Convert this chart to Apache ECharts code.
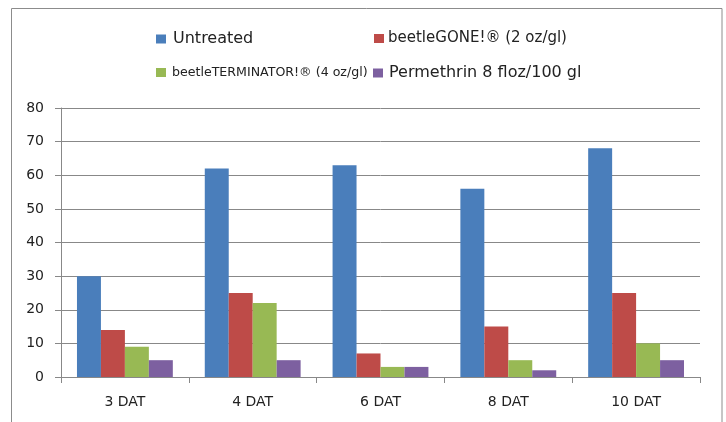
<!DOCTYPE html>
<html>
<head>
<meta charset="utf-8">
<script src="https://cdn.jsdelivr.net/npm/echarts@6/dist/echarts.min.js"></script>
<style>
  html, body { margin: 0; padding: 0; background: #fff; }
  #chart { width: 726px; height: 422px; }
</style>
</head>
<body>
<div id="chart"></div>
<script>
// categories (days after treatment)
const categories = ['3 DAT', '4 DAT', '6 DAT', '8 DAT', '10 DAT'];

// series values
const untreated = [30, 62, 63, 56, 68];
const beetleGone = [14, 25, 7, 15, 25];
const beetleTerminator = [9, 22, 3, 5, 10];
const permethrin = [5, 5, 3, 2, 5];

const names = [
  'Untreated',
  'beetleGONE!\u00ae (2 oz/gl)',
  'beetleTERMINATOR!\u00ae (4 oz/gl)',
  'Permethrin 8 floz/100 gl'
];
const colors = ['#4a7ebb', '#be4b48', '#98b954', '#7d60a0'];

const chart = echarts.init(document.getElementById('chart'));

// one legend per entry, the original lays them out in two rows
const mkLegend = (name, left, top, fontSize, gap) => ({
  data: [name],
  left: left,
  top: top,
  icon: 'rect',
  itemWidth: 10,
  itemHeight: 9,
  itemGap: gap,
  textStyle: { color: '#222', fontSize: fontSize, fontFamily: 'DejaVu Sans', padding: [0, 0, 0, gap - 5] },
  selectedMode: false
});

const option = {
  animation: false,
  color: colors,
  graphic: [{
    type: 'rect',
    shape: { x: 11.5, y: 8.5, width: 710.5, height: 430 },
    style: { fill: 'none', stroke: '#8c8c8c', lineWidth: 1 },
    silent: true
  }],
  legend: [
    mkLegend(names[0], 151, 26, 16, 7),
    mkLegend(names[1], 369, 26, 15, 4),
    mkLegend(names[2], 151, 61, 12.6, 6),
    mkLegend(names[3], 368, 60, 16, 6)
  ],
  grid: { left: 61, right: 26, top: 108, bottom: 45 },
  xAxis: {
    type: 'category',
    data: categories,
    axisLine: { lineStyle: { color: '#888', width: 1 } },
    axisTick: { show: true, length: 6, lineStyle: { color: '#888' } },
    axisLabel: { color: '#222', fontSize: 14, fontFamily: 'DejaVu Sans', margin: 18 }
  },
  yAxis: {
    type: 'value',
    min: 0,
    max: 80,
    interval: 10,
    axisLine: { show: true, lineStyle: { color: '#888', width: 1 } },
    axisTick: { show: true, length: 6, lineStyle: { color: '#888' } },
    axisLabel: { color: '#222', fontSize: 14, fontFamily: 'DejaVu Sans', margin: 17 },
    splitLine: { lineStyle: { color: '#888', width: 1 } }
  },
  series: [
    { name: names[0], type: 'bar', data: untreated, barGap: '0%', barCategoryGap: '25%' },
    { name: names[1], type: 'bar', data: beetleGone },
    { name: names[2], type: 'bar', data: beetleTerminator },
    { name: names[3], type: 'bar', data: permethrin }
  ]
};

chart.setOption(option);
</script>
</body>
</html>
